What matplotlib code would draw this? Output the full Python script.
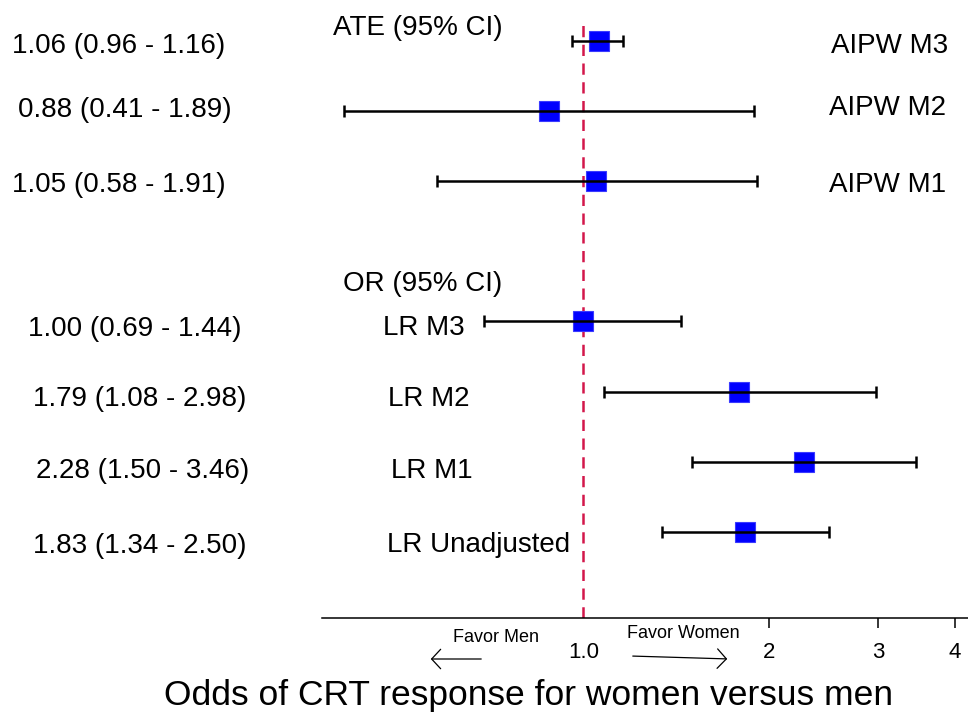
import matplotlib
matplotlib.use("Agg")
import matplotlib.pyplot as plt
import numpy as np

# ---- data ----
models = ["AIPW M3", "AIPW M2", "AIPW M1", "LR M3", "LR M2", "LR M1", "LR Unadjusted"]
estimate = [1.06, 0.88, 1.05, 1.00, 1.79, 2.28, 1.83]
lower = [0.96, 0.41, 0.58, 0.69, 1.08, 1.50, 1.34]
upper = [1.16, 1.89, 1.91, 1.44, 2.98, 3.46, 2.50]
ypos = [8, 7, 6, 4, 3, 2, 1]
tick_vals = [1, 2, 3, 4]
tick_labels = ["1.0", "2", "3", "4"]
ci_texts = [f"{e:.2f} ({l:.2f} - {u:.2f})" for e, l, u in zip(estimate, lower, upper)]

# ---- layout (pixels from top-left) ----
W, H = 968, 714
ci_x = [12, 18, 12, 28, 33, 36, 33]
ci_y = [46, 110, 185, 329, 399, 471, 546]
name_x = [948, 946, 946, 383, 388, 391, 387]
name_y = [46, 108, 185, 328, 399, 471, 545]
name_ha = ["right", "right", "right", "left", "left", "left", "left"]

FONT = ["Liberation Sans", "DejaVu Sans"]
plt.rcParams['font.family'] = FONT
LBL = 20

fig = plt.figure(figsize=(W / 100, H / 100), dpi=100)
ax_left, ax_bottom_px, ax_top_px = 322, 618, 24
ax = fig.add_axes([ax_left / W, 1 - ax_bottom_px / H, 1 - ax_left / W, (ax_bottom_px - ax_top_px) / H])

ax.set_xscale("log")
ax.set_xlim(0.377, 4.2)
ax.set_ylim(-0.226, 8.24)

ax.axvline(1.0, color="#d3174a", lw=1.8, ls=(0, (4.5, 3)), zorder=1)

ax.plot(estimate, ypos, ls="none", marker="s", ms=14.5, mfc="#0000ff", mec="#3a3aff", mew=0.8, zorder=2)
ax.errorbar(estimate, ypos, xerr=[np.array(estimate) - np.array(lower), np.array(upper) - np.array(estimate)],
            fmt="none", ecolor="black", elinewidth=1.8, capsize=4.5, capthick=1.8, zorder=3)

for s in ["top", "right", "left"]:
    ax.spines[s].set_visible(False)
ax.spines["bottom"].set_linewidth(1.1)
ax.set_yticks([])
ax.set_xticks(tick_vals)
ax.set_xticklabels(tick_labels, fontsize=16)
ax.xaxis.set_minor_locator(matplotlib.ticker.NullLocator())
ax.tick_params(axis="x", length=7, width=1.1, pad=10)
ax.get_xticklines()[0].set_visible(False)


def ftext(x, y, s, **kw):
    fig.text(x / W, 1 - y / H, s, va="center", **kw)


for t, x, y in zip(ci_texts, ci_x, ci_y):
    ftext(x, y, t, fontsize=LBL, ha="left")
for t, x, y, ha in zip(models, name_x, name_y, name_ha):
    ftext(x, y, t, fontsize=LBL, ha=ha)

ftext(333, 28, "ATE (95% CI)", fontsize=LBL, ha="left")
ftext(343, 284, "OR (95% CI)", fontsize=LBL, ha="left")

ftext(496, 637, "Favor Men", fontsize=13, ha="center")
ftext(683, 634, "Favor Women", fontsize=13, ha="center")

astyle = "->,head_length=6.5,head_width=7"
fig.add_artist(matplotlib.patches.FancyArrowPatch((484 / W, 1 - 659 / H), (428 / W, 1 - 659 / H),
                                                   transform=fig.transFigure, arrowstyle=astyle,
                                                   lw=0.9, color="black", mutation_scale=1))
fig.add_artist(matplotlib.patches.FancyArrowPatch((630 / W, 1 - 656 / H), (730 / W, 1 - 659 / H),
                                                   transform=fig.transFigure, arrowstyle=astyle,
                                                   lw=0.9, color="black", mutation_scale=1))

ftext(529, 695, "Odds of CRT response for women versus men", fontsize=25.5, ha="center")

fig.savefig("out.png", dpi=100)
